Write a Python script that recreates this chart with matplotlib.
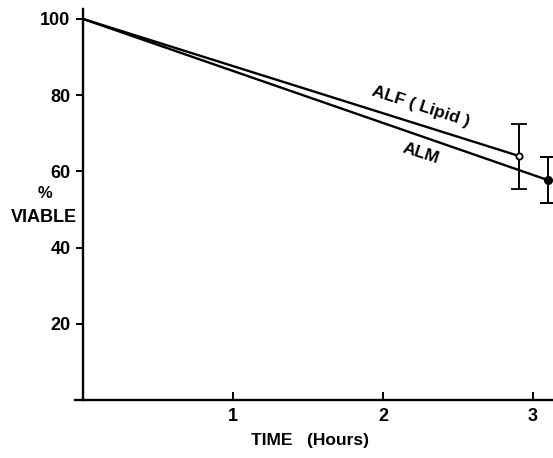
import matplotlib
matplotlib.use("Agg")
import matplotlib.pyplot as plt

# Data
alf_x = [0.0, 2.91]
alf_y = [100.0, 64.0]
alf_err = 8.5
alm_x = [0.0, 3.10]
alm_y = [100.0, 57.7]
alm_err = 6.0
xticks = [1, 2, 3]
yticks = [20, 40, 60, 80, 100]

plt.rcParams['font.family'] = ['Liberation Sans', 'DejaVu Sans']
plt.rcParams['font.weight'] = 'bold'

fig = plt.figure(figsize=(5.53, 4.58), dpi=100)
ax = fig.add_axes([0.1365, 0.1266, 0.8625, 0.8537])
ax.set_xlim(-0.05, 3.13)
ax.set_ylim(0, 102.6)

ax.plot(alf_x, alf_y, color='black', lw=1.7)
ax.plot(alm_x, alm_y, color='black', lw=1.7)
ax.errorbar([alf_x[-1]], [alf_y[-1]], yerr=alf_err, fmt='o', mfc='white', mec='black',
            ms=4.5, mew=1.3, ecolor='black', elinewidth=1.4, capsize=6, capthick=1.4)
ax.errorbar([alm_x[-1]], [alm_y[-1]], yerr=alm_err, fmt='o', mfc='black', mec='black',
            ms=5.5, ecolor='black', elinewidth=1.4, capsize=6, capthick=1.4)

for s in ['top', 'right']:
    ax.spines[s].set_visible(False)
ax.spines['left'].set_position(('data', 0))
ax.spines['left'].set_linewidth(1.7)
ax.spines['bottom'].set_linewidth(1.7)

ax.set_xticks(xticks)
ax.set_xticklabels([str(t) for t in xticks])
ax.set_yticks(yticks)
ax.set_yticklabels([str(t) for t in yticks])
ax.tick_params(axis='x', direction='in', length=6, width=1.4, pad=6, labelsize=13)
ax.tick_params(axis='y', direction='out', length=5, width=1.4, pad=4, labelsize=13)
for lab in ax.get_xticklabels() + ax.get_yticklabels():
    lab.set_fontweight('bold')

fig.text(310 / 553, 1 - 440 / 458, 'TIME   (Hours)', ha='center', va='center',
         fontsize=12.5, fontweight='bold')
fig.text(45 / 553, 1 - 193 / 458, '%', ha='center', va='center', fontsize=12, fontweight='bold')
fig.text(44 / 553, 1 - 218 / 458, 'VIABLE', ha='center', va='center', fontsize=13, fontweight='bold')

ax.text(2.25, 77.0, 'ALF ( Lipid )', rotation=-18, ha='center', va='center',
        fontsize=12.5, fontweight='bold', rotation_mode='anchor')
ax.text(2.25, 64.8, 'ALM', rotation=-18, ha='center', va='center',
        fontsize=12.5, fontweight='bold', rotation_mode='anchor')

fig.savefig('out.png', dpi=100)
